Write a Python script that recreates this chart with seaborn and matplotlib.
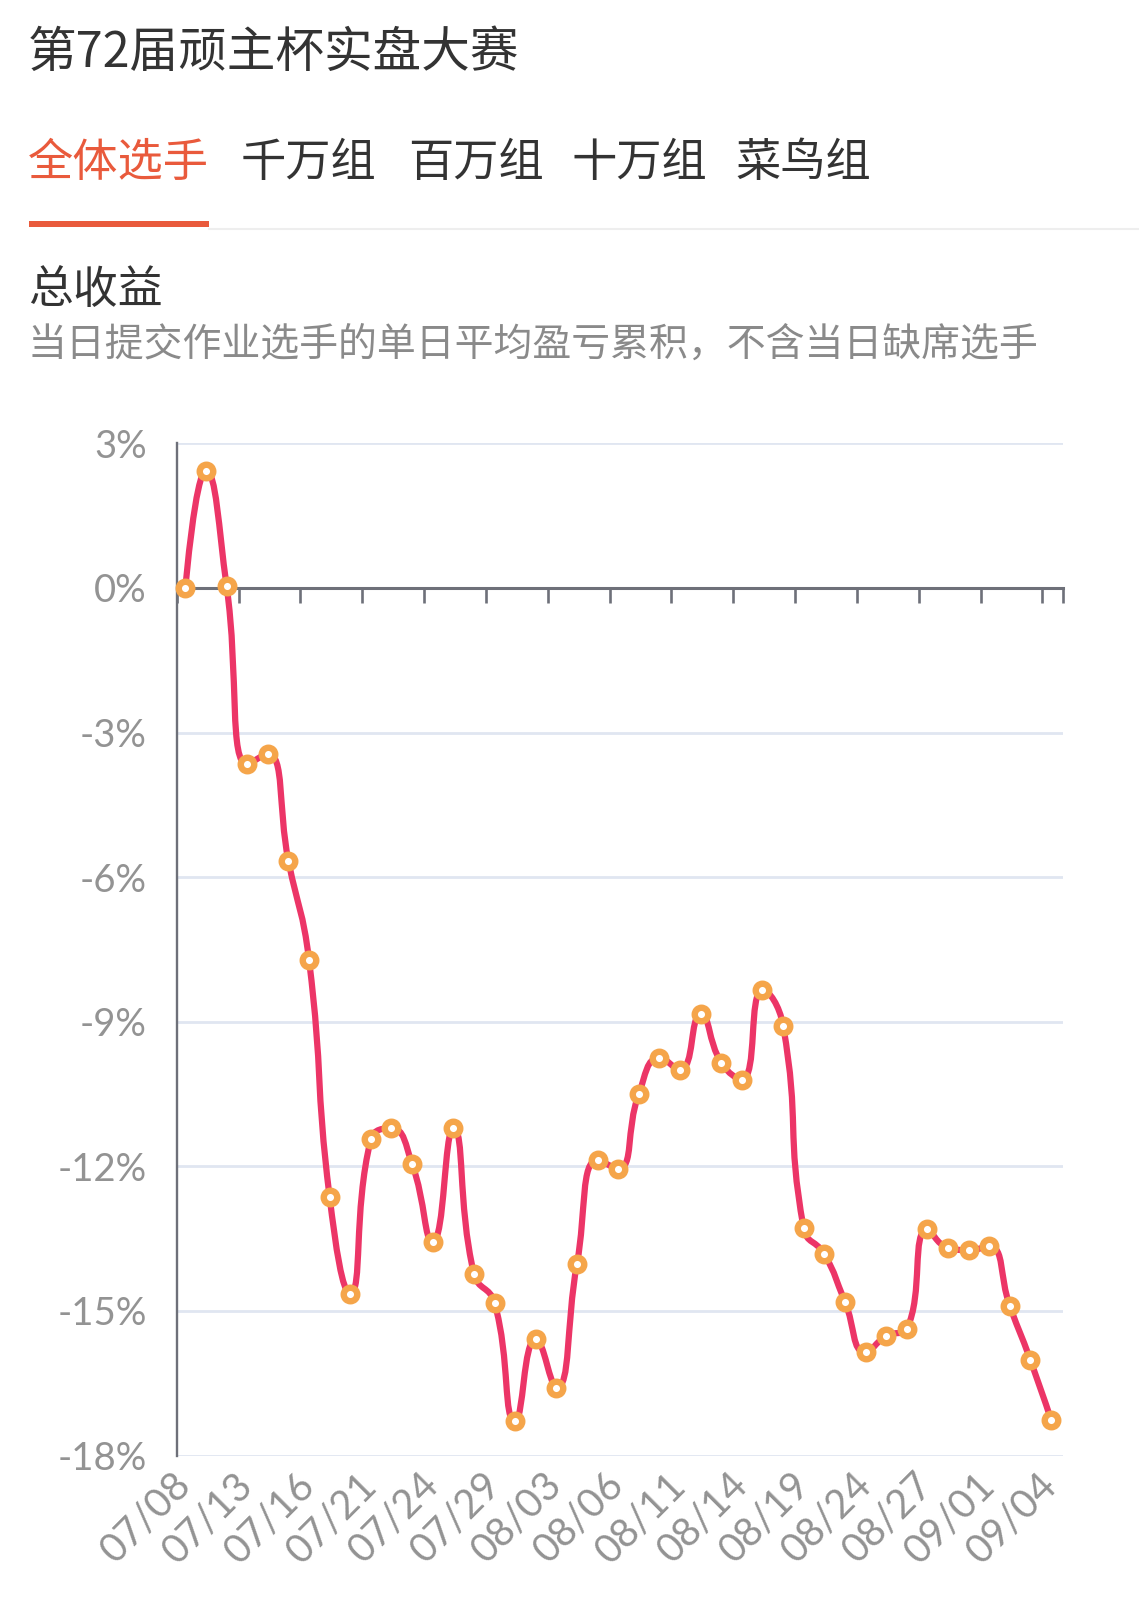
import numpy as np
import matplotlib
matplotlib.use("Agg")
import matplotlib.pyplot as plt
from matplotlib.path import Path
from matplotlib.patches import PathPatch, Rectangle
from matplotlib.lines import Line2D
import seaborn as sns

# ---------------- data ----------------
total_return = [0.00, 2.43, 0.04, -3.66, -3.44, -5.66, -7.72, -12.64, -14.64, -11.44,
                -11.21, -11.95, -13.57, -11.21, -14.23, -14.83, -17.29, -15.58, -16.60, -14.02,
                -11.87, -12.05, -10.50, -9.75, -10.00, -8.85, -9.85, -10.20, -8.34, -9.08,
                -13.29, -13.82, -14.81, -15.86, -15.52, -15.37, -13.31, -13.69, -13.74, -13.66,
                -14.90, -16.02, -17.26]
date_labels = ['07/08', '07/13', '07/16', '07/21', '07/24', '07/29', '08/03', '08/06',
               '08/11', '08/14', '08/19', '08/24', '08/27', '09/01', '09/04']
y_ticks = [3, 0, -3, -6, -9, -12, -15, -18]
y_labels = ['3%', '0%', '-3%', '-6%', '-9%', '-12%', '-15%', '-18%']
title = '第72届顽主杯实盘大赛'
tabs = ['全体选手', '千万组', '百万组', '十万组', '菜鸟组']
chart_title = '总收益'
chart_note = '当日提交作业选手的单日平均盈亏累积，不含当日缺席选手'

LINE = '#ec3567'
DOT = '#f5a54a'
AXIS = '#6e7079'
GRID = '#e0e6f1'
ACCENT = '#e95a3c'
LABEL = '#939393'

sns.set_style('white')
plt.rcParams['font.family'] = ['Lato', 'Noto Sans CJK SC', 'DejaVu Sans']
CJK = ['Noto Sans CJK SC', 'DejaVu Sans']

W, H = 1139, 1622
fig = plt.figure(figsize=(W / 100, H / 100), dpi=100)


def fx(px):
    return px / W


def fy(py):
    return 1 - py / H


# ---------------- header ----------------
fig.text(fx(28), fy(53), title, family=CJK, fontsize=35, color='#333333', va='center')
tab_left = [28, 241, 408, 572, 735]
for i, (t, x) in enumerate(zip(tabs, tab_left)):
    fig.text(fx(x), fy(163), t, family=CJK, fontsize=32.6,
             color=ACCENT if i == 0 else '#333333', va='center')
fig.add_artist(Rectangle((fx(29), fy(227)), fx(209) - fx(29), fy(221) - fy(227),
                         transform=fig.transFigure, color=ACCENT, lw=0))
fig.add_artist(Line2D([fx(209), 1], [fy(229), fy(229)], transform=fig.transFigure,
                      color='#eeeeee', lw=1.5))
fig.text(fx(28), fy(290), chart_title, family=CJK, fontsize=32.3, color='#333333', va='center')
fig.text(fx(28), fy(345), chart_note, family=CJK, fontsize=28, color='#8a8a8a', va='center')

# ---------------- chart ----------------
x0, x1, ytop, ybot = 176.7, 1063, 443.3, 1455.5
ax = fig.add_axes([fx(x0), fy(ybot), fx(x1) - fx(x0), fy(ytop) - fy(ybot)])
n = len(total_return)
day_index = np.arange(n)
ax.set_xlim(-0.42, n - 0.42)
ax.set_ylim(-18, 3)

ax.set_yticks(y_ticks, labels=y_labels)
ax.yaxis.grid(True, color=GRID, lw=2)
ax.set_axisbelow(True)
ax.tick_params(axis='y', left=False, length=0, pad=21.5, labelsize=27.5, labelcolor=LABEL)

for s in ['top', 'right']:
    ax.spines[s].set_visible(False)
ax.spines['left'].set_color(AXIS)
ax.spines['left'].set_linewidth(1.7)
ax.spines['bottom'].set_position(('data', 0))
ax.spines['bottom'].set_color(AXIS)
ax.spines['bottom'].set_linewidth(2.2)
ax.set_xticks(list(np.arange(-0.42, n - 1, 3)) + [n - 0.42])
ax.tick_params(axis='x', bottom=True, length=11, width=1.9, color=AXIS, direction='out',
               labelbottom=False)

secax = ax.secondary_xaxis('bottom')
secax.set_xticks(list(range(0, n, 3)), labels=date_labels)
secax.spines['bottom'].set_visible(False)
secax.tick_params(bottom=False, length=0, pad=17, labelsize=28.5, labelcolor=LABEL)
for lbl in secax.get_xticklabels():
    lbl.set_rotation(45)
    lbl.set_ha('right')
    lbl.set_va('center')
    lbl.set_rotation_mode('anchor')


# smooth line, same control-point rule as the echarts "smooth: true" series
def smooth_path(pts, smooth=0.5):
    verts = [pts[0]]
    codes = [Path.MOVETO]
    cp0 = pts[0]
    for k in range(1, len(pts)):
        x, y = pts[k]
        px_, py_ = pts[k - 1]
        if k == len(pts) - 1:
            cp1 = np.array([x, y])
            ncp = None
        else:
            nx, ny = pts[k + 1]
            vx, vy = nx - px_, ny - py_
            l0 = np.hypot(x - px_, y - py_)
            l1 = np.hypot(nx - x, ny - y)
            r = l1 / (l0 + l1)
            ncx, ncy = x + vx * smooth * r, y + vy * smooth * r
            ncx = max(min(ncx, max(nx, x)), min(nx, x))
            ncy = max(min(ncy, max(ny, y)), min(ny, y))
            vx, vy = ncx - x, ncy - y
            c1x, c1y = x - vx * l0 / l1, y - vy * l0 / l1
            c1x = max(min(c1x, max(px_, x)), min(px_, x))
            c1y = max(min(c1y, max(py_, y)), min(py_, y))
            vx, vy = x - c1x, y - c1y
            ncp = np.array([x + vx * l1 / l0, y + vy * l1 / l0])
            cp1 = np.array([c1x, c1y])
        verts += [cp0, cp1, np.array([x, y])]
        codes += [Path.CURVE4] * 3
        cp0 = ncp
    return np.array(verts), codes


disp = ax.transData.transform(np.column_stack([day_index, total_return]))
verts, codes = smooth_path(disp)
path = Path(ax.transData.inverted().transform(verts), codes)
ax.add_patch(PathPatch(path, fill=False, edgecolor=LINE, lw=4.5,
                       capstyle='round', joinstyle='round', zorder=3))

sns.scatterplot(x=day_index, y=total_return, ax=ax, s=95, marker='o', color='white',
                edgecolor=DOT, linewidth=4.6, zorder=4, clip_on=False, legend=False)
ax.set_xlabel('')
ax.set_ylabel('')

fig.savefig('out.png', dpi=100, facecolor='white')
